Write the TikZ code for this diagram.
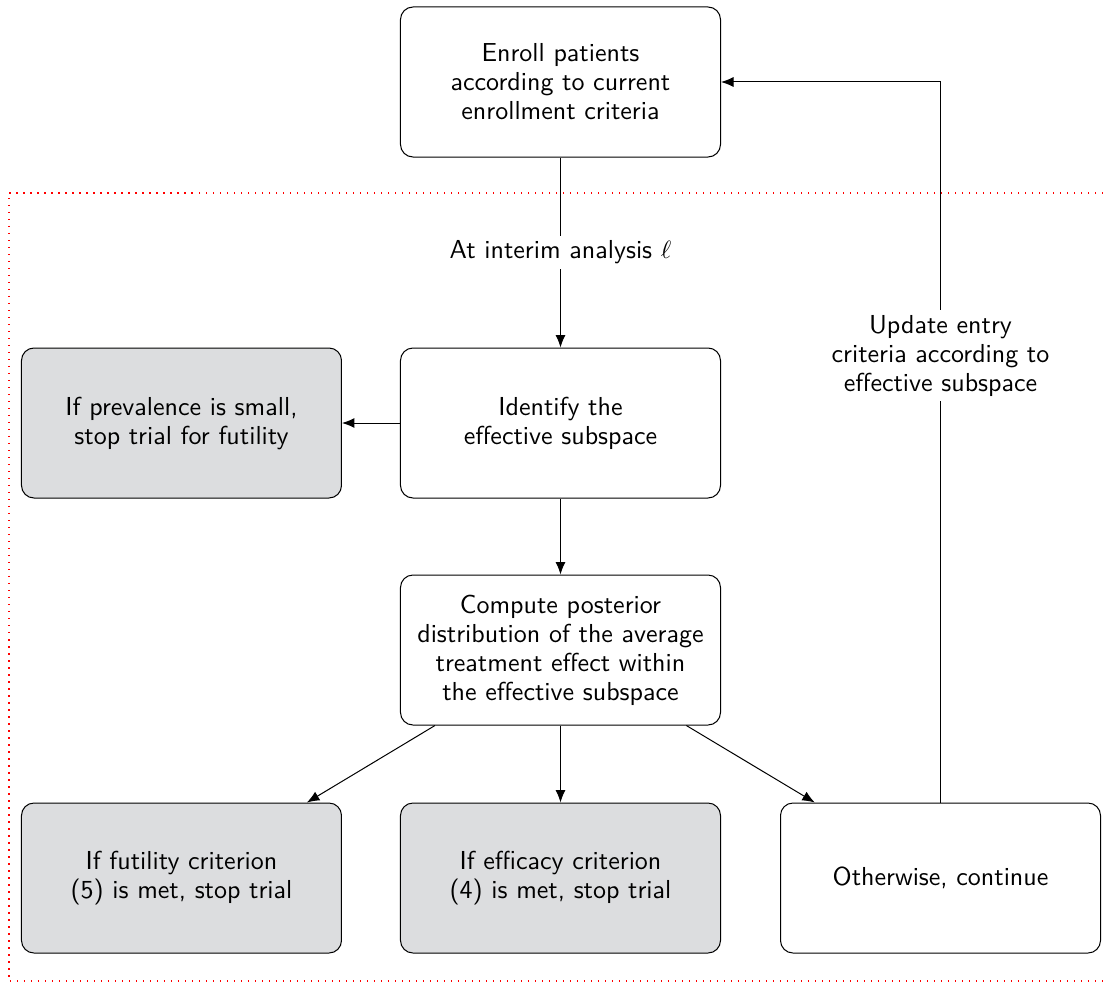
\documentclass[tikz,border=0pt]{standalone}
\usepackage{amsmath}
\usetikzlibrary{positioning,arrows.meta}
\definecolor{boxgray}{RGB}{220,221,223}

\begin{document}
\begin{tikzpicture}[thin,>={Latex[length=5pt,width=4pt]},
            every node/.style={font=\sffamily\fontsize{10.4pt}{11.6pt}\selectfont,align=center},
            stepbox/.style={draw,rounded corners=5pt,minimum width=128pt,minimum height=60pt},
            stopbox/.style={stepbox,fill=boxgray},
            onpath/.style={fill=white,inner sep=2pt}]
            \useasboundingbox(-224.2pt,32.8pt)rectangle(217pt,-360.8pt);
            \node[stepbox](enroll)at(0,0){Enroll patients\\according to current\\enrollment criteria};
            \node[stepbox,below=76pt of enroll](identify){Identify the\\effective subspace};
            \node[stopbox,left=23.2pt of identify](prev){If prevalence is small,\\stop trial for futility};
            \node[stepbox,below=30.4pt of identify](post){Compute posterior\\distribution of the average\\treatment effect within\\the effective subspace};
            \node[stopbox,below=30.8pt of post](eff){If efficacy criterion\\(4) is met, stop trial};
            \node[stopbox,left=23.2pt of eff](fut){If futility criterion\\(5) is met, stop trial};
            \node[stepbox,right=23.6pt of eff](cont){Otherwise, continue};
            % interim analysis region
            \draw[red,line width=0.6pt,dash pattern=on 0.6pt off 2.2pt](217pt,-44.4pt)--(-220.6pt,-44.4pt)|-(217pt,-359.6pt);
            \draw[->](enroll)--node[onpath]{At interim analysis $\ell$}(identify);
            \draw[->](identify)--(prev);
            \draw[->](identify)--(post);
            \draw[->](post)--(fut);
            \draw[->](post)--(eff);
            \draw[->](post)--(cont);
            \draw[->](cont.north)|-node[onpath,pos=0.31]{Update entry\\criteria according to\\effective subspace}(enroll.east);
          \end{tikzpicture}
\end{document}
